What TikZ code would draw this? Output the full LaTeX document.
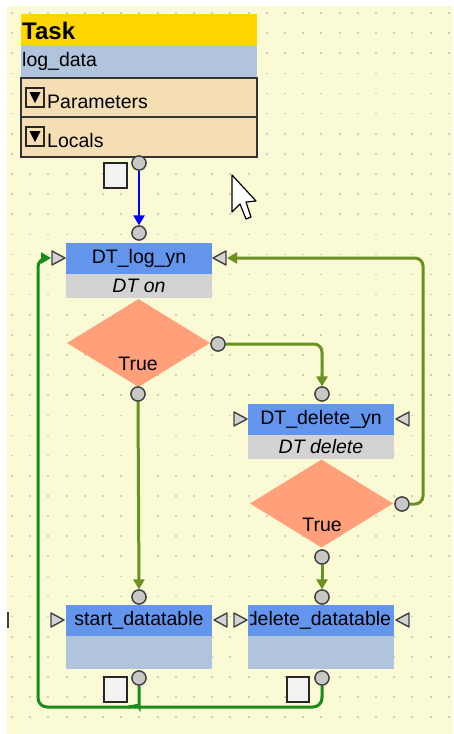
\documentclass[tikz,border=0pt]{standalone}
\usepackage{fontspec}
\setmainfont{Liberation Sans}
\usetikzlibrary{arrows.meta,shapes.geometric}
\definecolor{bgc}{RGB}{250,250,212}
\definecolor{dotc}{RGB}{205,205,200}
\definecolor{taskc}{RGB}{255,214,0}
\definecolor{steel}{RGB}{176,196,222}
\definecolor{wheatc}{RGB}{245,222,179}
\definecolor{hdrc}{RGB}{100,149,237}
\definecolor{greyc}{RGB}{211,211,211}
\definecolor{salm}{RGB}{255,160,122}
\definecolor{olv}{RGB}{107,145,35}
\definecolor{dkg}{RGB}{25,140,25}
\definecolor{portc}{RGB}{200,200,200}
\definecolor{edgec}{RGB}{64,64,64}
\tikzset{
  lbl/.style={font=\fontsize{19.5}{21}\selectfont, text=black},
  hdrbox/.style={lbl, fill=hdrc, minimum width=146pt, minimum height=31pt, inner sep=0pt},
  subbox/.style={lbl, fill=greyc, minimum width=146pt, minimum height=24pt, inner sep=0pt, font=\fontsize{19.5}{21}\selectfont\itshape},
  lowbox/.style={fill=steel, minimum width=146pt, minimum height=33pt, inner sep=0pt},
  port/.style={circle, fill=portc, draw=edgec, line width=1.3pt, minimum size=14pt, inner sep=0pt},
  sq/.style={fill=black!5, draw=black!85, line width=1.5pt},
  tri/.style={fill=greyc, draw=edgec, line width=1.4pt, line join=round},
  dia/.style={diamond, fill=salm, inner sep=0pt, minimum width=143pt, minimum height=88pt},
  olvline/.style={draw=olv, line width=3pt, rounded corners=8pt, -{Triangle[length=10pt,width=11pt]}},
  dkgline/.style={draw=dkg, line width=3pt, rounded corners=9pt},
  icon/.style={fill=wheatc, draw=black!85, line width=1.4pt},
}
\begin{document}
\begin{tikzpicture}[x=1pt,y=-1pt]
\useasboundingbox (0,0) rectangle (453,734);
\fill[white] (0,0) rectangle (453,734);
\fill[bgc] (7,6) rectangle (453,734);
\foreach \i in {0,...,24} {
  \foreach \j in {0,...,35} {
    \fill[dotc] ({12+18.2*\i-1},{13+20.12*\j-0.8}) rectangle ++(2,1.6);
  }
}
\fill[black!75] (7,612) rectangle (9,628);

% Task block
\fill[taskc] (21,14) rectangle (257,45);
\node[anchor=west, inner sep=0pt, font=\fontsize{24}{26}\selectfont\bfseries] (task) at (22,31) {Task};
\fill[steel] (21,45) rectangle (257,77);
\node[anchor=west, inner sep=0pt, lbl] (logdata) at (22,61) {log\_data};
\draw[fill=wheatc, draw=black!80, line width=2.2pt] (21,78) rectangle (257,157);
\draw[black!80, line width=1.6pt] (21,117) -- (257,117);
\draw[icon] (26,88) rectangle (44,107);
\fill[black] (29.5,92) -- (40.5,92) -- (35,103) -- cycle;
\node[anchor=west, inner sep=0pt, lbl] (params) at (47,102) {Parameters};
\draw[icon] (26,127) rectangle (44,146);
\fill[black] (29.5,131) -- (40.5,131) -- (35,142) -- cycle;
\node[anchor=west, inner sep=0pt, lbl] (locals) at (47,141) {Locals};
\draw[sq] (104,163) rectangle (127,188);
\node[port] (taskout) at (139,163) {};

% cursor
\draw[fill=white, draw=black, line width=1.2pt, line join=round] (232,175) -- (232,212) -- (240,204) -- (246,219) -- (251,217) -- (246,202) -- (256,201) -- cycle;

% DT_log_yn
\node[hdrbox] (logyn) at (139,258) {DT\_log\_yn};
\node[subbox] (logynsub) at (139,285.5) {DT on};
\node[port] (logynin) at (139,233) {};
\draw[tri] (52,251) -- (65,258) -- (52,265) -- cycle;
\coordinate (logynL) at (51,258);
\draw[tri] (226,251) -- (213,258) -- (226,265) -- cycle;
\coordinate (logynR) at (227,258);

% diamond 1
\node[dia] (d1) at (138.5,343) {};
\node[lbl, inner sep=0pt] (d1t) at (138,364) {True};
\node[port] (d1r) at (218,344) {};
\node[port] (d1b) at (138,394) {};

% DT_delete_yn
\node[hdrbox] (delyn) at (321,419.5) {DT\_delete\_yn};
\node[subbox] (delynsub) at (321,447) {DT delete};
\node[port] (delynin) at (322,394) {};
\draw[tri] (234,412) -- (247,419) -- (234,426) -- cycle;
\draw[tri] (409,412) -- (396,419) -- (409,426) -- cycle;

% diamond 2
\node[dia] (d2) at (321.5,503.5) {};
\node[lbl, inner sep=0pt] (d2t) at (322,525) {True};
\node[port] (d2r) at (402,504) {};
\node[port] (d2b) at (322,557) {};

% start_datatable
\node[lowbox] (startlow) at (139,652.5) {};
\node[hdrbox] (start) at (139,620.5) {start\_datatable};
\node[port] (startin) at (139,597) {};
\draw[tri] (51,613) -- (64,620) -- (51,627) -- cycle;
\draw[tri] (227,613) -- (214,620) -- (227,627) -- cycle;
\draw[sq] (104,677) rectangle (127,702);
\node[port] (startout) at (139,678) {};

% delete_datatable
\node[lowbox] (dellow) at (321,652.5) {};
\node[hdrbox] (deldt) at (321,620.5) {};
\begin{scope}
\clip (250,600) rectangle (394,640);
\node[lbl, inner sep=0pt] (deltxt) at (319,620) {delete\_datatable};
\end{scope}
\draw[tri] (234,613) -- (247,620) -- (234,627) -- cycle;
\draw[tri] (409,613) -- (396,620) -- (409,627) -- cycle;
\draw[sq] (287,677) rectangle (309,702);
\node[port] (delout) at (322,678) {};
\node[port] (deldtin) at (322,597) {};

% connectors
\draw[blue, line width=2.6pt, -{Triangle[length=10pt,width=11pt]}] (taskout.south) -- (logynin.north);
\draw[olvline] (d1r.east) -| (delynin.north);
\draw[olvline] (d1b.south) -- (startin.north);
\draw[olvline] (d2b.south) -- (deldtin.north);
\draw[olvline] (d2r.east) -| (423,380) |- (logynR);
\draw[dkgline] (startout.south) -- (139,698) to[out=-90,in=0] (128,707);
\draw[dkgline, -{Triangle[length=10pt,width=11pt]}] (delout.south) |- (38,707) -- (38,258) -- (logynL);

% redraw ports on top
\node[port] at (taskout) {};
\node[port] at (logynin) {};
\node[port] at (d1r) {};
\node[port] at (d1b) {};
\node[port] at (delynin) {};
\node[port] at (d2r) {};
\node[port] at (d2b) {};
\node[port] at (startin) {};
\node[port] at (deldtin) {};
\node[port] at (startout) {};
\node[port] at (delout) {};
\end{tikzpicture}
\end{document}
